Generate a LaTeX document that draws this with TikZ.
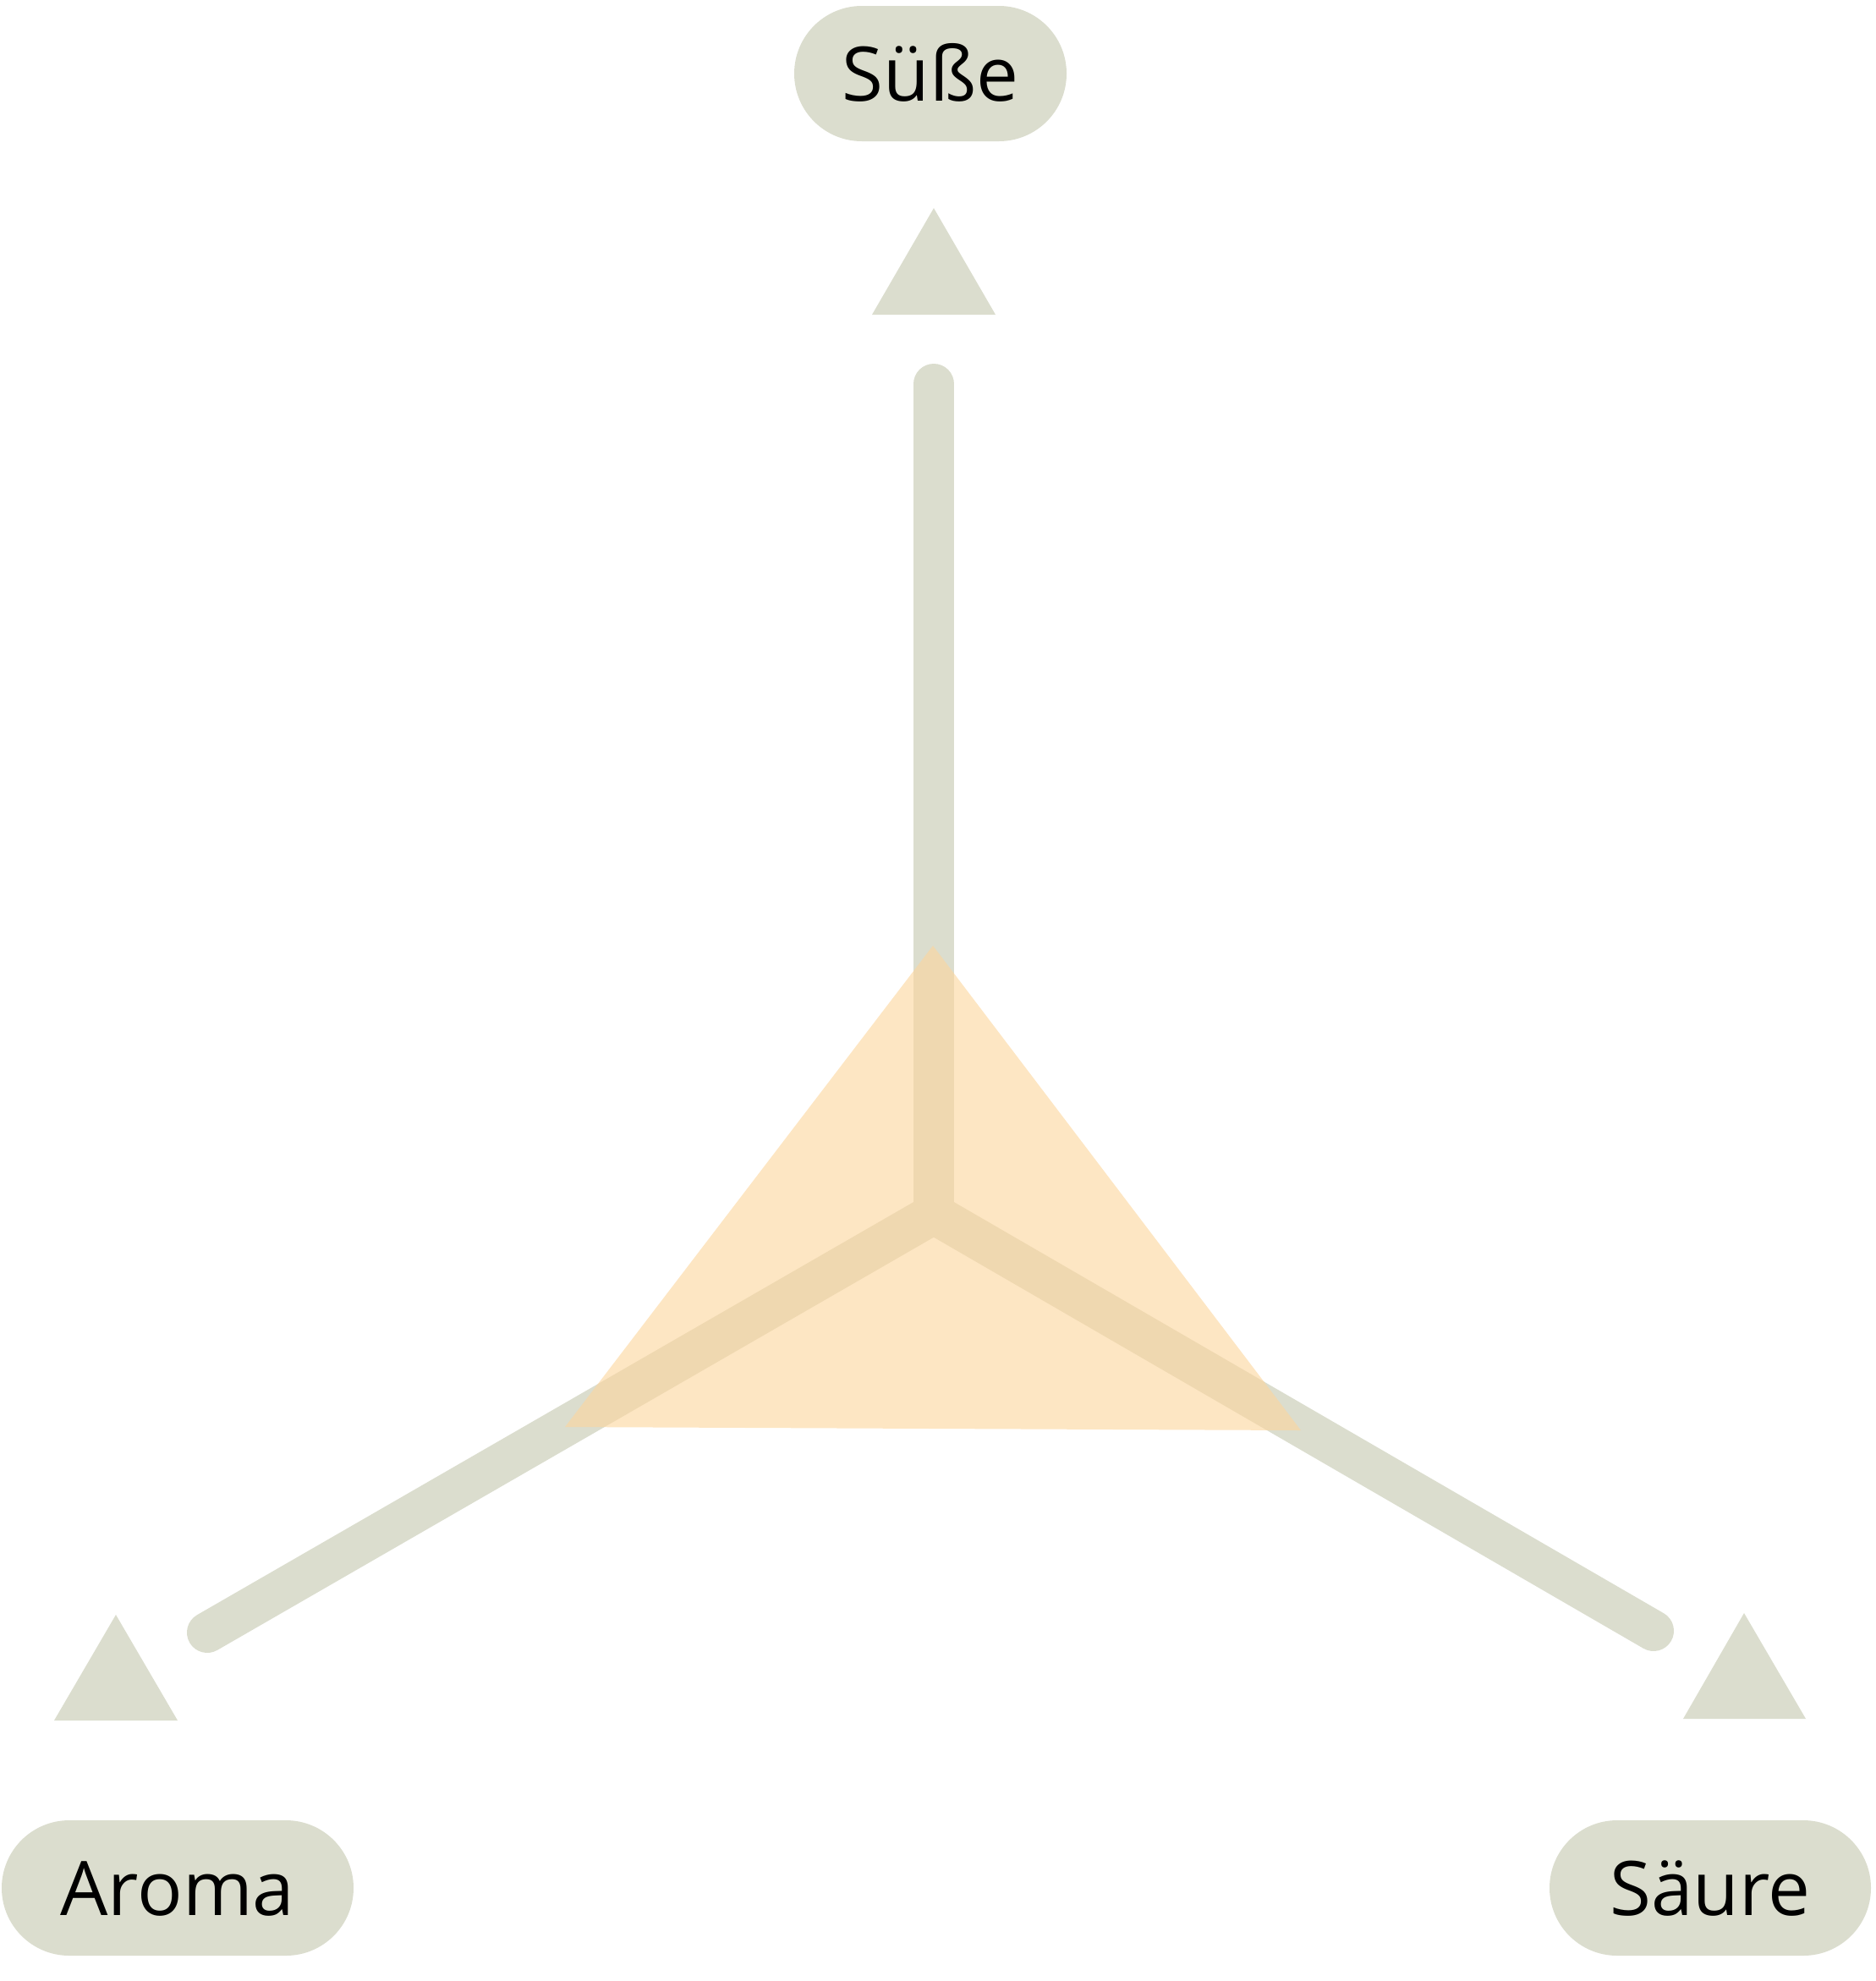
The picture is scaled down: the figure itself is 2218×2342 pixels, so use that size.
\documentclass[tikz,border=0pt]{standalone}
\usepackage{fontspec}
\setmainfont{Open Sans}
\definecolor{sage}{RGB}{219,221,206}
\definecolor{apricot}{RGB}{252,214,158}
\begin{document}
\begin{tikzpicture}[x=1pt,y=-1pt,
  pill/.style={fill=sage, rounded corners=80pt, inner sep=0pt, minimum height=160pt,
    text height=64pt, text depth=0pt, font=\fontsize{89}{100}\selectfont},
  axis/.style={draw=sage, line width=48pt, line cap=round},
  marker/.style={fill=sage},
  area/.style={fill=apricot, fill opacity=0.62}]
\useasboundingbox (0,0) rectangle (2218,2342);
% labels
\node[pill, minimum width=322pt] (suesse) at (1100,87) {Süße};
\node[pill, minimum width=416pt] (aroma) at (210,2232) {Aroma};
\node[pill, minimum width=380pt] (saeure) at (2022,2232) {Säure};
% markers
\fill[marker] (1104,246) -- (1177,372) -- (1031,372) -- cycle;
\fill[marker] (137,1909) -- (210,2034) -- (64,2034) -- cycle;
\fill[marker] (2062,1907) -- (2135,2032) -- (1990,2032) -- cycle;
% axes
\coordinate (C) at (1104,1435);
\coordinate (eS) at (1104,454);
\coordinate (eA) at (245,1930);
\coordinate (eR) at (1955,1928);
\draw[axis] (C) -- (eS);
\draw[axis] (C) -- (eA);
\draw[axis] (C) -- (eR);
% value triangle
\coordinate (vS) at (1103,1118);
\coordinate (vA) at (668,1687);
\coordinate (vR) at (1538,1691);
\fill[area] (vS) -- (vR) -- (vA) -- cycle;
\end{tikzpicture}
\end{document}
